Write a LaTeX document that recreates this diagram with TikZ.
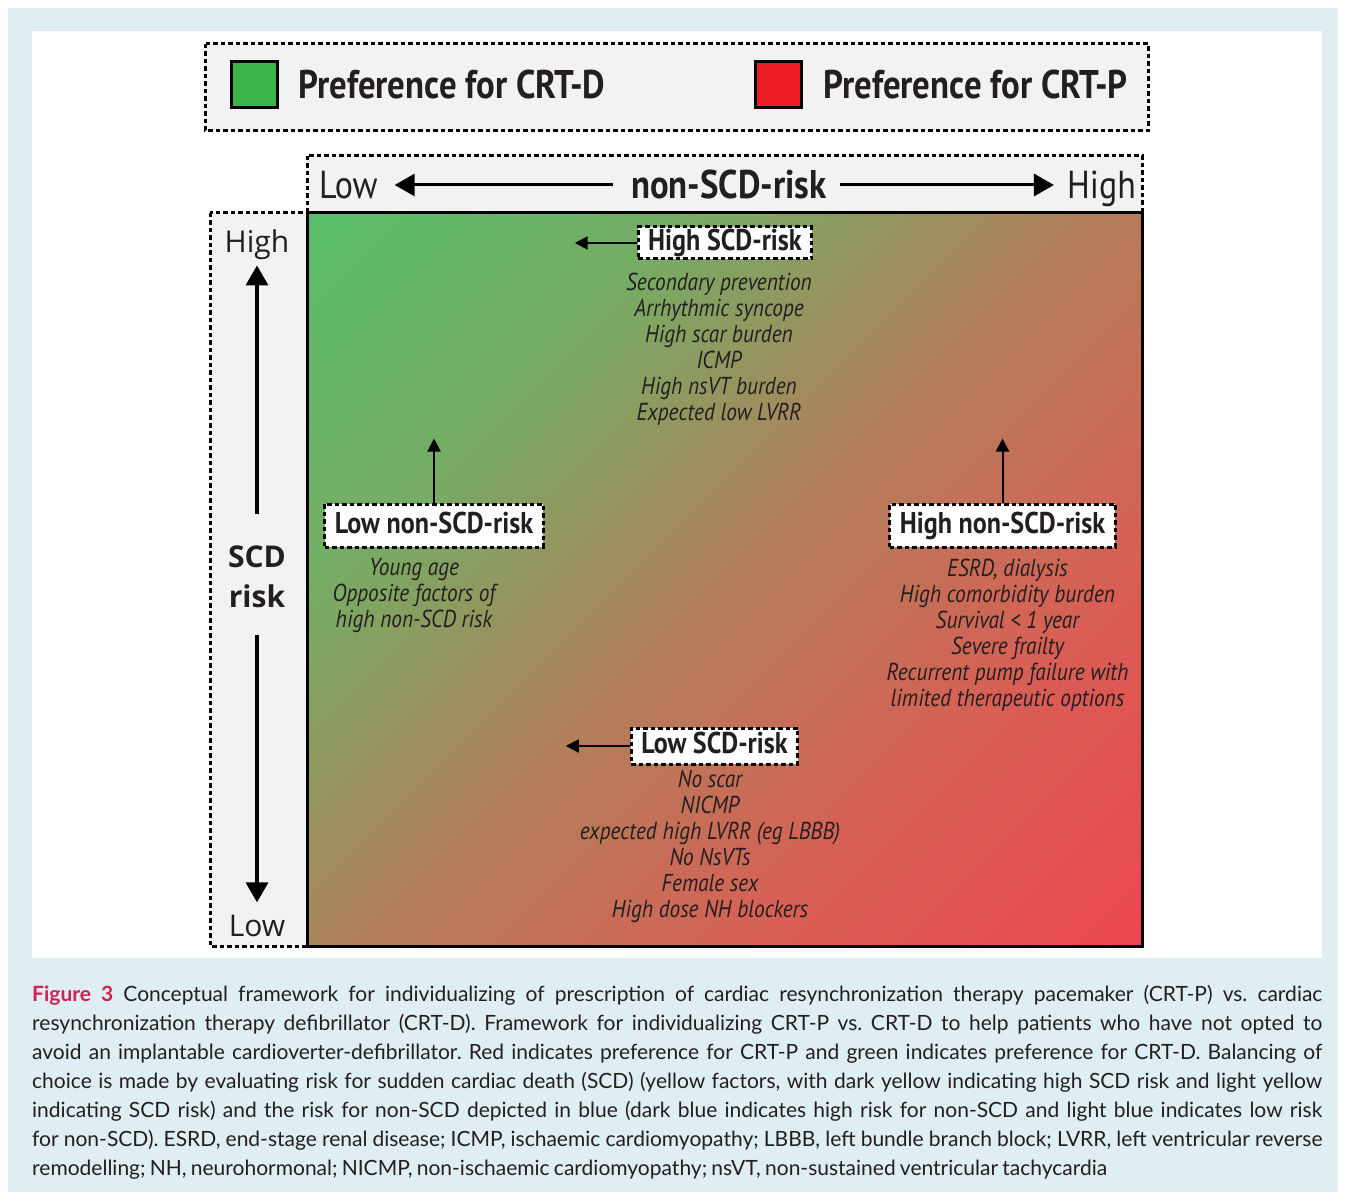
\documentclass[tikz,border=0pt]{standalone}
\usepackage{fontspec}
\usepackage{tikz}
\usetikzlibrary{arrows.meta,positioning}

\newfontfamily\condfont{PT Sans}[FakeStretch=0.87]
\newfontfamily\axisfont{Open Sans}
\newfontfamily\capfont{Lato}
\newcommand\capspacing{\frenchspacing\spaceskip=0.2em plus 1em minus 0.05em\relax}

\definecolor{bgblue}{RGB}{222,238,243}
\definecolor{boxgray}{RGB}{242,242,242}
\definecolor{crtdgreen}{RGB}{57,181,74}
\definecolor{crtpred}{RGB}{237,28,36}
\definecolor{figred}{RGB}{214,30,88}
\definecolor{inkblack}{RGB}{35,31,32}
\definecolor{gradgreen}{RGB}{88,190,106}
\definecolor{gradolive}{RGB}{118,172,100}
\definecolor{gradbrown}{RGB}{178,127,90}
\definecolor{gradrust}{RGB}{216,95,85}
\definecolor{gradred}{RGB}{236,70,80}

\pgfdeclarehorizontalshading{crtgrad}{100bp}{color(0bp)=(gradgreen); color(14.6bp)=(gradgreen);
  color(32bp)=(gradolive); color(50bp)=(gradbrown); color(68bp)=(gradrust);
  color(85.4bp)=(gradred); color(100bp)=(gradred)}

\tikzset{
  dashbox/.style={draw=black, line width=3pt, dash pattern=on 4.5pt off 3pt},
  riskbox/.style={dashbox, fill=white, inner xsep=10pt, inner ysep=0pt, minimum height=32pt,
    text height=21pt, text depth=6pt, font=\condfont\bfseries\fontsize{30}{32}\selectfont},
  factors/.style={align=center, inner sep=0pt, font=\condfont\itshape\fontsize{24.5}{26}\selectfont},
  bigtip/.style={-{Triangle[length=20pt,width=22pt]}, line width=3pt},
  smalltip/.style={-{Triangle[length=13pt,width=13pt]}, line width=2pt},
  colorsq/.style={draw=black, line width=3pt, minimum size=46pt, inner sep=0pt}
}

\begin{document}
\begin{tikzpicture}[x=1pt, y=-1pt, every node/.append style={text=inkblack}]

   \useasboundingbox (0,0) rectangle (1345,1198);
   \fill[white] (0,0) rectangle (1345,1198);
   \fill[bgblue] (8,8) rectangle (1338,1192);
   \fill[white] (32,31) rectangle (1322,958);

   \draw[dashbox, fill=boxgray] (205,44) rectangle (1148,131);
   \node[colorsq, fill=crtdgreen] (greensq) at (254,84.5) {};
   \node[colorsq, fill=crtpred] (redsq) at (778.5,84.5) {};
   \node[anchor=base west, inner sep=0pt, font=\condfont\bfseries\fontsize{40}{42}\selectfont] (crtd) at (298,99) {Preference for CRT-D};
   \node[anchor=base west, inner sep=0pt, font=\condfont\bfseries\fontsize{40}{42}\selectfont] (crtp) at (823,99) {Preference for CRT-P};

   \draw[dashbox, fill=boxgray] (307,156) rectangle (1142,213);
   \draw[dashbox, fill=boxgray] (210,213) rectangle (307,946);
   \shade[shading=crtgrad, shading angle=-45] (307,213) rectangle (1142,946);
   \draw[line width=3pt] (307,213) rectangle (1142,946);

   \node[anchor=base west, inner sep=0pt, font=\condfont\fontsize{39}{40}\selectfont] (lowx) at (319,199) {Low};
   \node[anchor=base east, inner sep=0pt, font=\condfont\fontsize{39}{40}\selectfont] (highx) at (1136,199) {High};
   \node[anchor=base, inner sep=0pt, font=\condfont\bfseries\fontsize{40}{42}\selectfont] (nonscd) at (729,199) {non-SCD-risk};
   \draw[bigtip, shorten <=18pt, shorten >=17pt] (nonscd.west) -- (nonscd.west -| lowx.east);
   \draw[bigtip, shorten <=13pt, shorten >=13pt] (nonscd.east) -- (nonscd.east -| highx.west);

   \node[anchor=base, inner sep=0pt, font=\axisfont\fontsize{30}{32}\selectfont] (highy) at (257,253) {High};
   \node[anchor=base, inner sep=0pt, font=\axisfont\fontsize{30}{32}\selectfont] (lowy) at (257,936) {Low};
   \node[align=center, inner sep=0pt, font=\axisfont\bfseries\fontsize{30}{40}\selectfont] (scd) at (257,577) {SCD\\risk};
   \draw[bigtip, line width=3.5pt, shorten <=32pt, shorten >=5pt] (scd.north) -- (highy.south);
   \draw[bigtip, line width=3.5pt, shorten <=27pt, shorten >=12pt] (scd.south) -- (lowy.north);

   \node[riskbox] (highscd) at (725,243) {High SCD-risk};
   \node[factors, below=12pt of highscd, xshift=-6pt] (highscdlist) {Secondary prevention\\Arrhythmic syncope\\High scar burden\\ICMP\\High nsVT burden\\Expected low LVRR};
   \coordinate[left=62pt of highscd.west] (highscdtip);
   \draw[smalltip] (highscd.west) -- (highscdtip);

   \node[riskbox, minimum height=43pt] (lownonscd) at (434,525.5) {Low non-SCD-risk};
   \node[factors, below=10pt of lownonscd, xshift=-20pt] (lownonscdlist) {Young age\\Opposite factors of\\high non-SCD risk};
   \coordinate[above=64pt of lownonscd.north] (lownonscdtip);
   \draw[smalltip] (lownonscd.north) -- (lownonscdtip);

   \node[riskbox, minimum height=43pt] (highnonscd) at (1002.5,525.5) {High non-SCD-risk};
   \node[factors, below=10pt of highnonscd, xshift=5pt] (highnonscdlist) {ESRD, dialysis\\High comorbidity burden\\Survival < 1 year\\Severe frailty\\Recurrent pump failure with\\limited therapeutic options};
   \coordinate[above=64pt of highnonscd.north] (highnonscdtip);
   \draw[smalltip] (highnonscd.north) -- (highnonscdtip);

   \node[riskbox, minimum height=36pt] (lowscd) at (714.5,746) {Low SCD-risk};
   \node[factors, below=4pt of lowscd, xshift=-4.5pt] (lowscdlist) {No scar\\NICMP\\expected high LVRR (eg LBBB)\\No NsVTs\\Female sex\\High dose NH blockers};
   \coordinate[left=64pt of lowscd.west] (lowscdtip);
   \draw[smalltip] (lowscd.west) -- (lowscdtip);

   \node[anchor=north west, inner sep=0pt, text width=1290pt, align=left,
     font=\capfont\fontsize{21}{29}\selectfont] (caption) at (32,985) {\capspacing
\makebox[1290pt][s]{\textcolor{figred}{\bfseries Figure 3} Conceptual framework for individualizing of prescription of cardiac resynchronization therapy pacemaker (CRT-P) vs. cardiac}\\
\makebox[1290pt][s]{resynchronization therapy defibrillator (CRT-D). Framework for individualizing CRT-P vs. CRT-D to help patients who have not opted to}\\
\makebox[1290pt][s]{avoid an implantable cardioverter-defibrillator. Red indicates preference for CRT-P and green indicates preference for CRT-D. Balancing of}\\
\makebox[1290pt][s]{choice is made by evaluating risk for sudden cardiac death (SCD) (yellow factors, with dark yellow indicating high SCD risk and light yellow}\\
\makebox[1290pt][s]{indicating SCD risk) and the risk for non-SCD depicted in blue (dark blue indicates high risk for non-SCD and light blue indicates low risk}\\
\makebox[1290pt][s]{for non-SCD). ESRD, end-stage renal disease; ICMP, ischaemic cardiomyopathy; LBBB, left bundle branch block; LVRR, left ventricular reverse}\\
remodelling; NH, neurohormonal; NICMP, non-ischaemic cardiomyopathy; nsVT, non-sustained ventricular tachycardia};

\end{tikzpicture}
\end{document}
